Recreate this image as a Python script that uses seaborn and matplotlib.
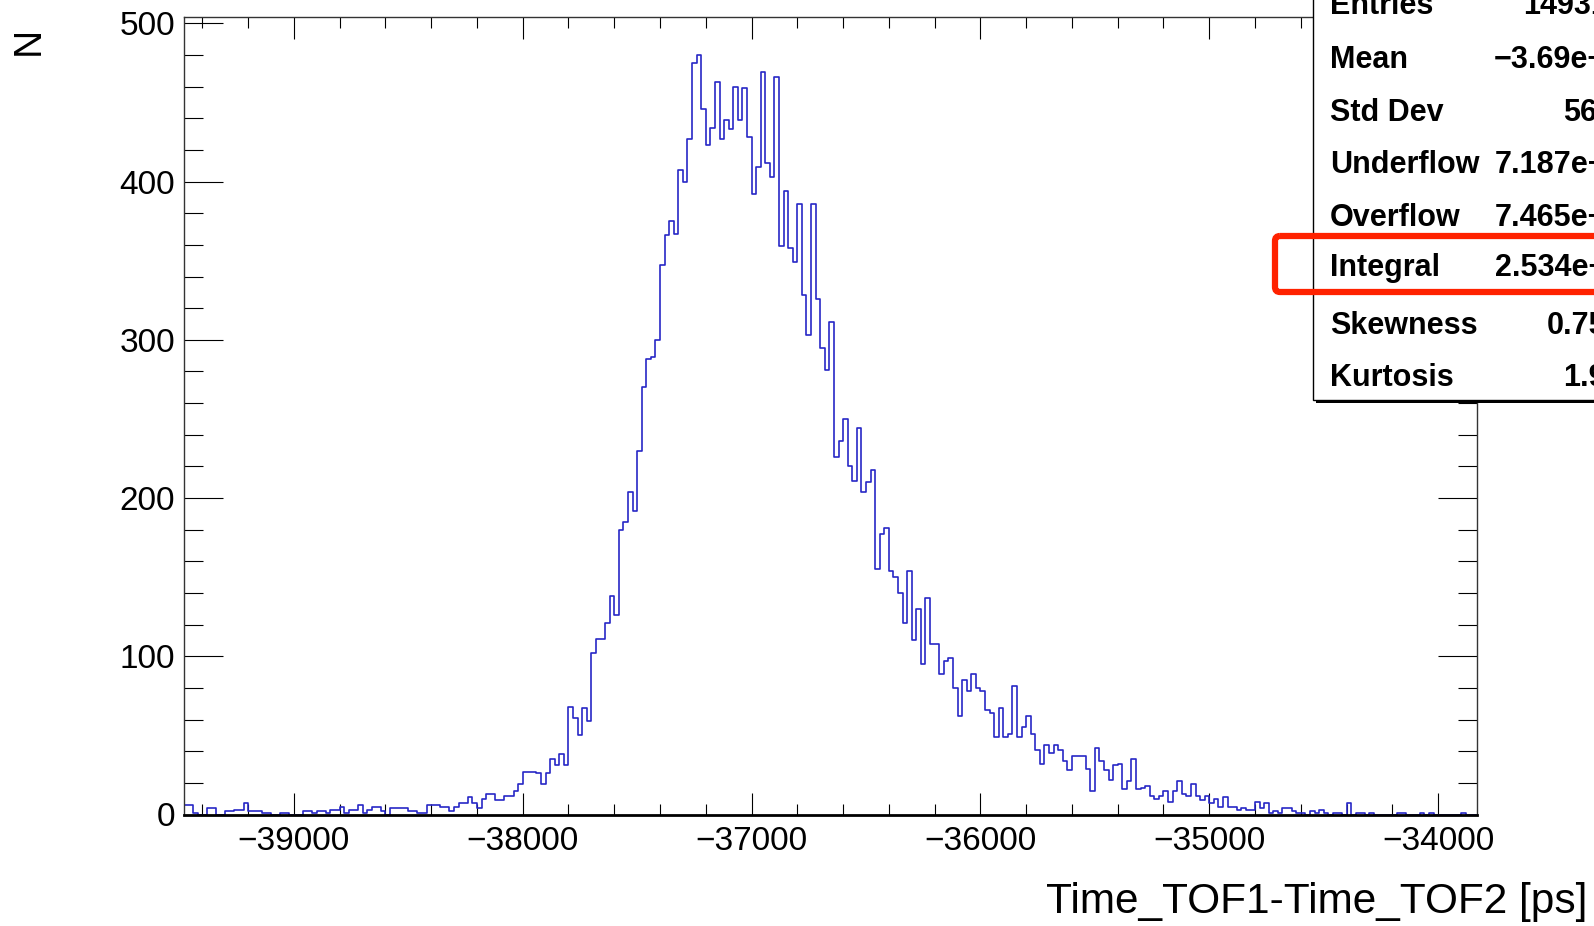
import numpy as np
import pandas as pd
import matplotlib
matplotlib.use("Agg")
import matplotlib.pyplot as plt
import seaborn as sns
from matplotlib.patches import Rectangle, FancyBboxPatch
from matplotlib.ticker import MultipleLocator

# ---------------- data ----------------
hist_start = -39480      # ps, low edge of first bin
bin_width = 20           # ps
left_tail = [6, 6, 1, 0, 0, 4, 4, 0, 0, 2,
             2, 3, 3, 7, 2, 2, 2, 1, 1, 0,
             0, 1, 1, 0, 0, 0, 2, 2, 1, 2,
             2, 1, 3, 3, 5, 1, 3, 3, 6, 1,
             3, 5, 5, 2, 0, 4, 4, 4, 4, 2,
             2, 1, 1, 6, 6, 6, 5, 5, 2, 5,
             7, 7, 11, 7, 4, 10, 13, 13, 9, 9,
             12, 12, 15, 19]
rising = [27, 27, 27, 26, 19, 26, 35, 31, 38, 31,
          68, 61, 50, 67, 59, 102, 111, 111, 121, 138,
          126, 180, 185, 204, 192, 230, 270, 288, 289, 300]
peak = [347, 366, 375, 367, 407, 400, 427, 475, 480, 446,
        423, 434, 463, 427, 439, 433, 460, 439, 459, 428,
        392, 409, 469, 412, 403, 466, 359, 394, 358, 349,
        386, 328, 303, 386, 326, 295, 281, 311]
falling = [226, 236, 250, 220, 211, 244, 204, 210, 218, 155,
           177, 181, 154, 150, 140, 121, 154, 110, 130, 95,
           137, 108, 108, 89, 97, 99, 80, 62, 85, 78,
           89, 80, 78, 66, 64, 49, 67, 49, 51, 81,
           49, 55, 62, 51, 41, 32, 44, 39, 44, 41,
           34, 28, 37, 37, 37]
right_tail = [29, 15, 42, 34, 28, 22, 31, 32, 16, 21,
              35, 16, 17, 18, 12, 10, 12, 15, 8, 15,
              21, 13, 12, 19, 12, 9, 12, 7, 10, 5,
              11, 5, 5, 3, 4, 3, 3, 8, 4, 7,
              1, 2, 1, 4, 4, 2, 1, 1, 0, 2,
              1, 3, 1, 0, 1, 1, 0, 7, 0, 1,
              1, 0, 1, 0, 0, 0, 0, 0, 1, 1,
              0, 0, 0, 1, 0, 1, 0, 0, 0, 0,
              0, 0, 1, 0, 0, 0]
counts = left_tail + rising + peak + falling + right_tail

x_min, x_max = -39480, -33830
y_min, y_max = 0, 504

x_label = "Time_TOF1-Time_TOF2 [ps]"
y_label = "N"

stat_names = ["Entries", "Mean", "Std Dev", "Underflow", "Overflow",
              "Integral", "Skewness", "Kurtosis"]
stat_values = ["1493112", "\u22123.69e+04", "563.2", "7.187e+05", "7.465e+05",
               "2.534e+04", "0.7532", "1.921"]

# ---------------- figure ----------------
sns.set_style("ticks")
plt.rcParams["font.family"] = ["Liberation Sans", "DejaVu Sans"]
plt.rcParams["text.color"] = "black"
plt.rcParams["xtick.labelcolor"] = "black"
plt.rcParams["ytick.labelcolor"] = "black"

W, H = 1594, 926
fig = plt.figure(figsize=(W / 100, H / 100), dpi=100)
fig.patch.set_facecolor("white")

ax = fig.add_axes([184 / W, 1 - 814.5 / H, (1477 - 184) / W, (814.5 - 17) / H])

n_bins = len(counts)
centers = hist_start + bin_width * (np.arange(n_bins) + 0.5)
df = pd.DataFrame({"t": centers, "n": np.asarray(counts, dtype=float)})
sns.histplot(data=df, x="t", weights="n", binwidth=bin_width,
             binrange=(hist_start, hist_start + bin_width * n_bins),
             element="step", fill=False, color="#2727c6", linewidth=1.2, ax=ax)

ax.set_xlim(x_min, x_max)
ax.set_ylim(y_min, y_max)
ax.set_xlabel("")
ax.set_ylabel("")
ax.xaxis.set_major_locator(MultipleLocator(1000))
ax.xaxis.set_minor_locator(MultipleLocator(200))
ax.yaxis.set_major_locator(MultipleLocator(100))
ax.yaxis.set_minor_locator(MultipleLocator(20))

ax.tick_params(axis="x", which="major", direction="in", length=16, width=0.8,
               top=True, bottom=True, labelsize=24, pad=8, color="black",
               labelcolor="black")
ax.tick_params(axis="x", which="minor", direction="in", length=8, width=0.8,
               top=True, bottom=True, color="black")
ax.tick_params(axis="y", which="major", direction="in", length=28, width=0.8,
               left=True, right=True, labelsize=24, pad=6.5, color="black",
               labelcolor="black")
ax.tick_params(axis="y", which="minor", direction="in", length=14, width=0.8,
               left=True, right=True, color="black")
for s in ax.spines.values():
    s.set_color("#333333")
    s.set_linewidth(1.0)
ax.spines["bottom"].set_color("black")
ax.spines["bottom"].set_linewidth(2.0)

fig.text(28.5 / W, 1 - 41 / H, y_label, rotation=90, ha="center", va="center",
         fontsize=28, color="black")
fig.text(1587 / W, 1 - 913 / H, x_label, ha="right", va="baseline",
         fontsize=30.5, color="black")

# ---------------- stats box overlay ----------------
ov = fig.add_axes([0, 0, 1, 1])
ov.set_xlim(0, W)
ov.set_ylim(H, 0)
ov.axis("off")

ov.add_patch(Rectangle((1316, -10), 400, 413, facecolor="black", edgecolor="none"))
ov.add_patch(Rectangle((1313, -10), 400, 410, facecolor="white",
                       edgecolor="black", linewidth=1.0))

row_centers = [3, 56.5, 110, 162, 215, 265, 323, 375]
for name, val, yc in zip(stat_names, stat_values, row_centers):
    ov.text(1330, yc + 11, name, ha="left", va="baseline", fontsize=22,
            fontweight="bold", color="black")
    ov.text(1640, yc + 11, val, ha="right", va="baseline", fontsize=22,
            fontweight="bold", color="black")

ov.add_patch(FancyBboxPatch((1275, 236), 420, 56,
                            boxstyle="round,pad=0,rounding_size=5",
                            linewidth=4.5, edgecolor="#ff2200", facecolor="none"))

fig.savefig("out.png", dpi=100)
